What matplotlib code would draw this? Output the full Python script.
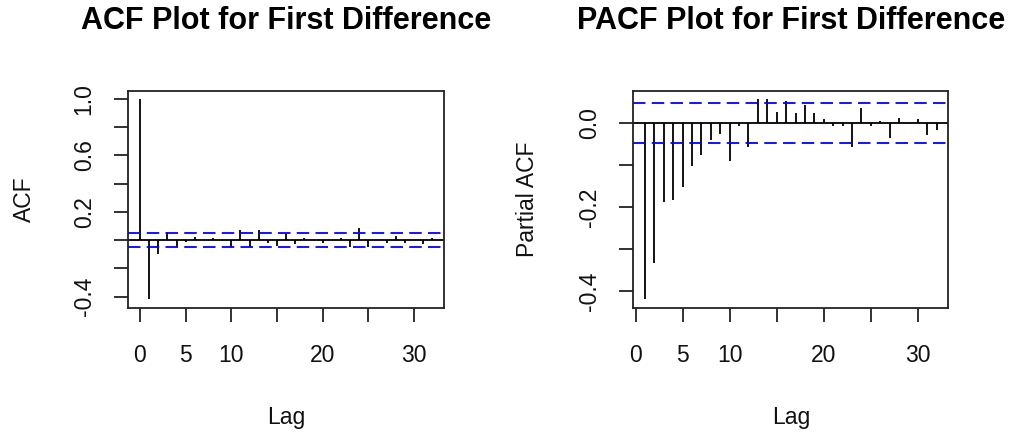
import matplotlib
matplotlib.use("Agg")
import matplotlib.pyplot as plt
import numpy as np

plt.rcParams['font.family'] = ['Liberation Sans', 'DejaVu Sans']
plt.rcParams['lines.scale_dashes'] = False

# ---- data ----
acf_lags = list(range(0, 33))
acf_vals = [1.0, -0.42, -0.10, 0.057, -0.05, -0.01, 0.026, 0.002, 0.014, 0.004,
            -0.045, 0.07, -0.045, 0.07, -0.02, -0.04, 0.045, -0.026, 0.014, 0.002,
            -0.02, 0.002, 0.014, -0.045, 0.085, -0.045, 0.002, -0.02, 0.03, -0.017,
            0.002, -0.028, 0.016]

pacf_lags = list(range(1, 33))
pacf_vals = [-0.419, -0.332, -0.187, -0.183, -0.153, -0.103, -0.075, -0.040, -0.026, -0.090,
             -0.006, -0.056, 0.057, 0.057, 0.027, 0.053, 0.023, 0.042, 0.023, 0.009,
             -0.006, -0.006, -0.056, 0.035, -0.006, 0.005, -0.036, 0.012, 0.001, 0.009,
             -0.028, -0.016]

conf_limit = 0.048

x_ticks = [0, 5, 10, 15, 20, 25, 30]
x_ticklabels = ['0', '5', '10', '', '20', '', '30']

acf_yticks = [-0.4, -0.2, 0.0, 0.2, 0.4, 0.6, 0.8, 1.0]
acf_yticklabels = ['-0.4', '', '', '0.2', '', '0.6', '', '1.0']

pacf_yticks = [-0.4, -0.3, -0.2, -0.1, 0.0]
pacf_yticklabels = ['-0.4', '', '-0.2', '', '0.0']

titles = ['ACF Plot for First Difference', 'PACF Plot for First Difference']
ylabels = ['ACF', 'Partial ACF']

W, H = 1010, 433
fig = plt.figure(figsize=(W / 100, H / 100), dpi=100)

def px_axes(l, r, t, b):
    return fig.add_axes([l / W, 1 - b / H, (r - l) / W, (b - t) / H])

ax1 = px_axes(128.3, 444, 91, 307.5)
ax2 = px_axes(633.3, 948.3, 91, 307.5)

def rlim(lo, hi):
    d = (hi - lo) * 0.04
    return lo - d, hi + d

def draw(ax, lags, vals, yticks, yticklabels, title, ylabel, ylabel_x):
    ax.vlines(lags, 0, vals, colors='black', linewidth=1.3)
    ax.axhline(0, color='black', linewidth=1.3)
    for s in (conf_limit, -conf_limit):
        ln = ax.axhline(s, color='#0000FF', linewidth=1.3)
        ln.set_dashes((9.0, 4.5))
    ax.set_xlim(*rlim(min(lags), max(lags)))
    ax.set_ylim(*rlim(min(min(vals), -conf_limit), max(max(vals), conf_limit)))
    ax.set_xticks(x_ticks)
    ax.set_xticklabels(x_ticklabels)
    ax.set_yticks(yticks)
    ax.set_yticklabels(yticklabels)
    ax.tick_params(axis='both', direction='out', length=10, width=1.3,
                   labelsize=16.5, colors='#222222', labelcolor='#111111')
    ax.tick_params(axis='x', pad=16)
    ax.tick_params(axis='y', labelrotation=90, pad=13.5)
    for lbl in ax.get_yticklabels():
        lbl.set_va('center')
    for sp in ax.spines.values():
        sp.set_linewidth(1.3)
        sp.set_color('#222222')
    ax.set_xlabel('Lag', fontsize=16.5, va='baseline', color='#111111')
    ax.xaxis.set_label_coords(0.5, -0.538)
    ax.set_ylabel(ylabel, fontsize=16.5, va='center', ha='center', color='#111111')
    ax.yaxis.set_label_coords(ylabel_x, 0.5)
    ax.text(0.5, 1.286, title, transform=ax.transAxes, ha='center', va='baseline',
            fontsize=22, fontweight='bold', color='black')

draw(ax1, acf_lags, acf_vals, acf_yticks, acf_yticklabels, titles[0], ylabels[0], -0.33)
draw(ax2, pacf_lags, pacf_vals, pacf_yticks, pacf_yticklabels, titles[1], ylabels[1], -0.337)

fig.savefig('out.png', dpi=100)
